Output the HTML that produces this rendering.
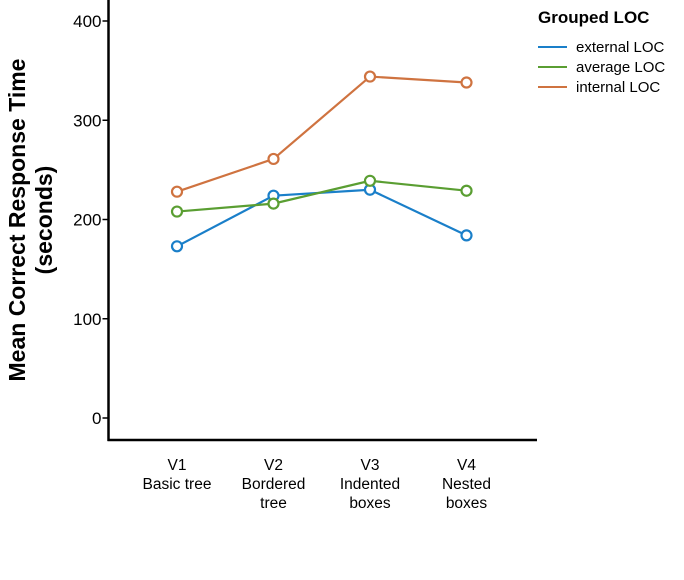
<!DOCTYPE html>
<html><head><meta charset="utf-8"><style>
body{margin:0;background:#fff;}
svg{display:block;font-family:"Liberation Sans",Arial,sans-serif;}
</style></head><body>
<svg width="684" height="580" id="chart">
<g id="axes"></g><g id="plot"></g><g id="legend"></g>
</svg>
<script>
const categories = ["V1","V2","V3","V4"];
const categorySub1 = ["Basic tree","Bordered","Indented","Nested"];
const categorySub2 = ["","tree","boxes","boxes"];
const yTicks = [0,100,200,300,400];
const seriesNames = ["external LOC","average LOC","internal LOC"];
const seriesColors = ["#1a7fc9","#5a9e32","#cf7340"];
const externalLOC = [173,224,230,184];
const averageLOC = [208,216,239,229];
const internalLOC = [228,261,344,338];
const allSeries = [externalLOC, averageLOC, internalLOC];

const NS="http://www.w3.org/2000/svg";
const x0=108.5, yZero=418, yPer=397/400;
const xs = i => 177 + i*96.5;
const ys = v => yZero - v*yPer;
function mk(tag, attrs, parent, text){
  const e=document.createElementNS(NS,tag);
  for(const k in attrs) e.setAttribute(k,attrs[k]);
  if(text!==undefined) e.textContent=text;
  parent.appendChild(e); return e;
}
const axes=document.getElementById('axes'), plot=document.getElementById('plot'), legend=document.getElementById('legend');
let a=mk('line',{x1:x0,y1:0,x2:x0,y2:441,stroke:'#000','stroke-width':2.5},axes);


a=mk('line',{x1:x0-1,y1:440,x2:537,y2:440,stroke:'#000','stroke-width':2.5},axes);


yTicks.forEach(t=>{
  const tk=mk('line',{x1:x0-6,y1:ys(t),x2:x0,y2:ys(t),stroke:'#000','stroke-width':1.5},axes);
  
  
  const lb=mk('text',{x:x0-7,y:ys(t)+6,'text-anchor':'end','font-size':17,fill:'#000'},axes,String(t));
  
  
});
categories.forEach((c,i)=>{
  const g=mk('text',{x:xs(i),'text-anchor':'middle','font-size':15.5,fill:'#000'},axes);
  
  
  [c,categorySub1[i],categorySub2[i]].forEach((s,j)=>mk('tspan',{x:xs(i),y:470+j*19},g,s));
});
const yt=mk('text',{transform:'translate(25,220) rotate(-90)','text-anchor':'middle','font-size':23,'font-weight':'bold',fill:'#000'},axes);


mk('tspan',{x:0,y:0},yt,'Mean Correct Response Time');
mk('tspan',{x:0,y:27},yt,'(seconds)');

allSeries.forEach((vals,si)=>{
  const pts=vals.map((v,i)=>xs(i)+','+ys(v)).join(' ');
  const pl=mk('polyline',{points:pts,fill:'none',stroke:seriesColors[si],'stroke-width':2.2},plot);
  
  
  vals.forEach((v,i)=>{
    const c=mk('circle',{cx:xs(i),cy:ys(v),r:5,fill:'#fff',stroke:seriesColors[si],'stroke-width':2.2},plot);
    
    
  });
});

const lt=mk('text',{x:538,y:23,'font-size':17,'font-weight':'bold',fill:'#000'},legend,'Grouped LOC');


seriesNames.forEach((n,i)=>{
  const y=47+i*20;
  const l=mk('line',{x1:538,y1:y,x2:567,y2:y,stroke:seriesColors[i],'stroke-width':2},legend);
  
  
  const t=mk('text',{x:576,y:y+5,'font-size':15,fill:'#000'},legend,n);
  
  
});
</script>
</body></html>
